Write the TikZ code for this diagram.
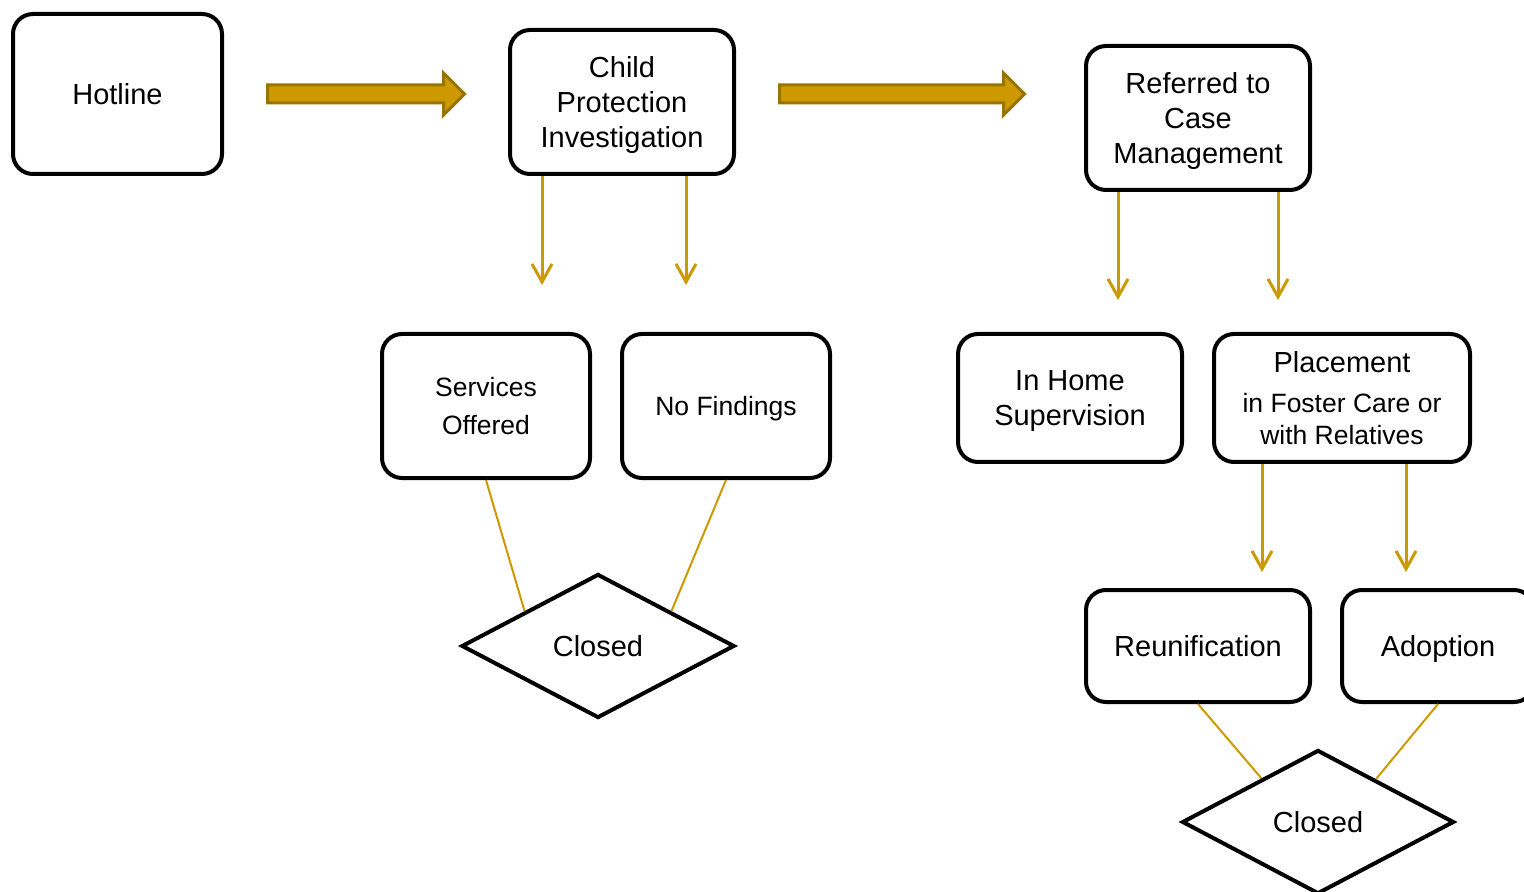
\documentclass[tikz,border=0pt]{standalone}
\usepackage{fontspec}
\setmainfont{Liberation Sans}
\usetikzlibrary{shapes.geometric,shapes.arrows,arrows.meta,calc}
\definecolor{gold}{HTML}{CC9900}
\definecolor{golddark}{HTML}{997300}
\newcommand\bigfnt{\fontsize{14.5}{17.5}\selectfont}
\newcommand\smallfnt{\fontsize{13.25}{19}\selectfont}
\begin{document}
\begin{tikzpicture}[x=0.5pt,y=-0.5pt,
  box/.style={draw=black,line width=2pt,rounded corners=10pt,fill=white,align=center,inner sep=0pt,font=\bigfnt,text depth=0pt},
  closedbox/.style={draw=black,line width=2pt,diamond,fill=white,inner sep=0pt,font=\bigfnt,text depth=0pt},
  bigarrow/.style={single arrow,draw=golddark,fill=gold,line width=1.5pt,inner sep=0pt,inner ysep=3.75pt,
    minimum width=19.5pt,single arrow head extend=6pt},
  garrow/.style={draw=gold,line width=1.5pt,-{Straight Barb[length=9pt,width=10pt]}},
  gline/.style={draw=gold,line width=1pt}]
\useasboundingbox (0,0) rectangle (1524,892);
% nodes
\node[box,minimum width=104.5pt,minimum height=80pt] (hot) at (117.5,94) {Hotline};
\node[box,minimum width=112pt,minimum height=72pt] (cpi) at (622,102) {Child\\Protection\\Investigation};
\node[box,minimum width=112pt,minimum height=72pt] (ref) at (1198,118) {Referred to\\Case\\Management};
\node[box,font=\smallfnt,minimum width=104pt,minimum height=72pt] (so) at (486,406) {Services\\Offered};
\node[box,font=\smallfnt,minimum width=104pt,minimum height=72pt] (nf) at (726,406) {No Findings};
\node[box,text depth=-4pt,minimum width=112pt,minimum height=64pt] (ih) at (1070,398) {In Home\\Supervision};
\node[box,font=\fontsize{13.25}{16}\selectfont,minimum width=128pt,minimum height=64pt] (pl) at (1342,398) {{\bigfnt Placement}\\[4pt]in Foster Care or\\with Relatives};
\node[box,minimum width=112pt,minimum height=56pt] (reu) at (1198,646) {Reunification};
\node[box,minimum width=96pt,minimum height=56pt] (ado) at (1438,646) {Adoption};
\node[closedbox,minimum width=136.5pt,minimum height=72pt] (c1) at (598,646) {Closed};
\node[closedbox,minimum width=136pt,minimum height=72pt] (c2) at (1318,822) {Closed};
% block arrows
\node[bigarrow,minimum height=98.5pt] (ba1) at (361.5,94) {};
\node[bigarrow,minimum height=122.5pt] (ba2) at (897.5,94) {};
% arrow end points
\coordinate (e1) at (542,285);
\coordinate (e2) at (686,285);
\coordinate (e3) at (1118,300);
\coordinate (e4) at (1278,300);
\coordinate (e5) at (1262,572);
\coordinate (e6) at (1406,572);
\draw[garrow] (cpi.south -| e1) -- (e1);
\draw[garrow] (cpi.south -| e2) -- (e2);
\draw[garrow] (ref.south -| e3) -- (e3);
\draw[garrow] (ref.south -| e4) -- (e4);
\draw[garrow] (pl.south -| e5) -- (e5);
\draw[garrow] (pl.south -| e6) -- (e6);
% lines to closed
\draw[gline] (so.south) -- ($(c1.west)!0.47!(c1.north)$);
\draw[gline] (nf.south) -- ($(c1.north)!0.53!(c1.east)$);
\draw[gline] (reu.south) -- ($(c2.west)!0.59!(c2.north)$);
\draw[gline] (ado.south) -- ($(c2.north)!0.42!(c2.east)$);
\end{tikzpicture}
\end{document}
